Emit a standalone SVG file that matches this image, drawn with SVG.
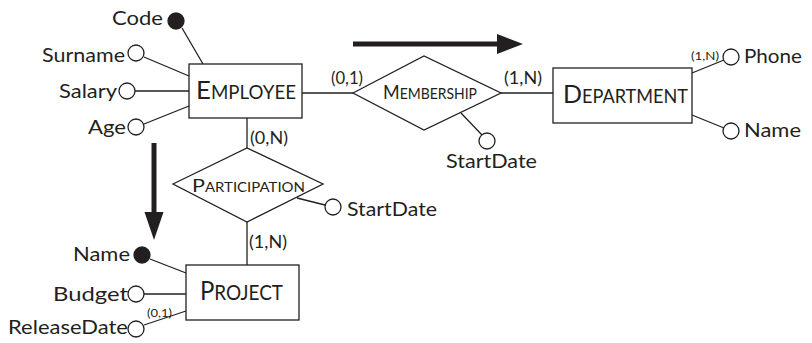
<svg xmlns="http://www.w3.org/2000/svg" width="812" height="343" viewBox="0 0 812 343">
<style>
text{font-family:Lato,"Open Sans","Liberation Sans",sans-serif;fill:#231f20}
.a{font-size:19px}
.c{font-size:17px}
.s{font-size:11px}
.ln{stroke:#231f20;stroke-width:1.3;fill:none}
.sh{fill:#fff;stroke:#231f20;stroke-width:1.3}
.oc{fill:#fff;stroke:#231f20;stroke-width:1.3}
.fc{fill:#231f20;stroke:#231f20;stroke-width:1.3}
</style>
<rect width="812" height="343" fill="#fff"/>
<g id="connectors">
<line class="ln" x1="182" y1="28" x2="203" y2="64"/>
<line class="ln" x1="144" y1="57" x2="189" y2="76"/>
<line class="ln" x1="135" y1="91" x2="189" y2="91"/>
<line class="ln" x1="144" y1="124" x2="189" y2="106"/>
<line class="ln" x1="302" y1="93" x2="353" y2="93"/>
<line class="ln" x1="501" y1="93" x2="553" y2="93"/>
<line class="ln" x1="461" y1="113" x2="482" y2="135"/>
<line class="ln" x1="692" y1="73" x2="724" y2="60"/>
<line class="ln" x1="692" y1="115" x2="724" y2="128"/>
<line class="ln" x1="247" y1="118" x2="247" y2="148"/>
<line class="ln" x1="247" y1="222" x2="247" y2="265"/>
<line class="ln" x1="297" y1="198" x2="325" y2="205"/>
<line class="ln" x1="150" y1="259" x2="186" y2="273"/>
<line class="ln" x1="144" y1="294" x2="186" y2="294"/>
<line class="ln" x1="144" y1="325" x2="186" y2="311"/>
<text class="c" x="331" y="84" textLength="32" lengthAdjust="spacingAndGlyphs">(0,1)</text>
<text class="c" x="504" y="84" textLength="38" lengthAdjust="spacingAndGlyphs">(1,N)</text>
<text class="c" x="250" y="144" textLength="38" lengthAdjust="spacingAndGlyphs">(0,N)</text>
<text class="c" x="249" y="248" textLength="38" lengthAdjust="spacingAndGlyphs">(1,N)</text>
<text class="s" x="691" y="60" textLength="28" lengthAdjust="spacingAndGlyphs">(1,N)</text>
<text class="s" x="147" y="317" textLength="25" lengthAdjust="spacingAndGlyphs">(0,1)</text>
<g id="arrows" fill="#231f20">
<rect x="353" y="41.5" width="146" height="5"/>
<polygon points="497,34 523,44 497,54"/>
<rect x="151.5" y="143" width="5" height="71"/>
<polygon points="144.5,212 154,240 163.5,212"/>
</g>
</g>
<g id="employee">
<rect class="sh" x="189" y="64" width="113" height="54"/>
<text x="246" y="99" text-anchor="middle" textLength="100" lengthAdjust="spacingAndGlyphs"><tspan font-size="25.5">E</tspan><tspan font-size="18.5">MPLOYEE</tspan></text>
</g>
<g id="code"><circle class="fc" cx="176" cy="21" r="8"/><text class="a" x="163" y="25" text-anchor="end" textLength="51" lengthAdjust="spacingAndGlyphs">Code</text></g>
<g id="surname"><circle class="oc" cx="136" cy="53" r="8"/><text class="a" x="125" y="62" text-anchor="end" textLength="83" lengthAdjust="spacingAndGlyphs">Surname</text></g>
<g id="salary"><circle class="oc" cx="127" cy="91" r="8"/><text class="a" x="117" y="98" text-anchor="end" textLength="58" lengthAdjust="spacingAndGlyphs">Salary</text></g>
<g id="age"><circle class="oc" cx="136" cy="127" r="8"/><text class="a" x="126" y="134" text-anchor="end" textLength="38" lengthAdjust="spacingAndGlyphs">Age</text></g>
<g id="membership">
<polygon class="sh" points="353,93 424,56 501,93 424,130"/>
<text x="430" y="99" text-anchor="middle" textLength="94" lengthAdjust="spacingAndGlyphs"><tspan font-size="18.5">M</tspan><tspan font-size="14.4">EMBERSHIP</tspan></text>
</g>
<g id="startdate1"><circle class="oc" cx="487" cy="141" r="8"/><text class="a" x="446" y="168" textLength="91" lengthAdjust="spacingAndGlyphs">StartDate</text></g>
<g id="department">
<rect class="sh" x="553" y="68" width="139" height="55"/>
<text x="625.5" y="103" text-anchor="middle" textLength="125" lengthAdjust="spacingAndGlyphs"><tspan font-size="25.5">D</tspan><tspan font-size="18.5">EPARTMENT</tspan></text>
</g>
<g id="phone"><circle class="oc" cx="731" cy="57" r="8"/><text class="a" x="744" y="63" textLength="58" lengthAdjust="spacingAndGlyphs">Phone</text></g>
<g id="dname"><circle class="oc" cx="731" cy="131" r="8"/><text class="a" x="744" y="137" textLength="57" lengthAdjust="spacingAndGlyphs">Name</text></g>
<g id="participation">
<polygon class="sh" points="173,184 247,148 323,184 247,222"/>
<text x="248.5" y="192" text-anchor="middle" textLength="113" lengthAdjust="spacingAndGlyphs"><tspan font-size="18">P</tspan><tspan font-size="12.5">ARTICIPATION</tspan></text>
</g>
<g id="startdate2"><circle class="oc" cx="333" cy="207" r="8"/><text class="a" x="347" y="216" textLength="90" lengthAdjust="spacingAndGlyphs">StartDate</text></g>
<g id="project">
<rect class="sh" x="186" y="265" width="113" height="55"/>
<text x="241.5" y="300" text-anchor="middle" textLength="83" lengthAdjust="spacingAndGlyphs"><tspan font-size="26.5">P</tspan><tspan font-size="21">ROJECT</tspan></text>
</g>
<g id="pname"><circle class="fc" cx="142" cy="255" r="8"/><text class="a" x="130" y="261" text-anchor="end" textLength="57" lengthAdjust="spacingAndGlyphs">Name</text></g>
<g id="budget"><circle class="oc" cx="136" cy="294" r="8"/><text class="a" x="128" y="301" text-anchor="end" textLength="75" lengthAdjust="spacingAndGlyphs">Budget</text></g>
<g id="releasedate"><circle class="oc" cx="136" cy="329" r="8"/><text class="a" x="128" y="334" text-anchor="end" textLength="120" lengthAdjust="spacingAndGlyphs">ReleaseDate</text></g>
</svg>
